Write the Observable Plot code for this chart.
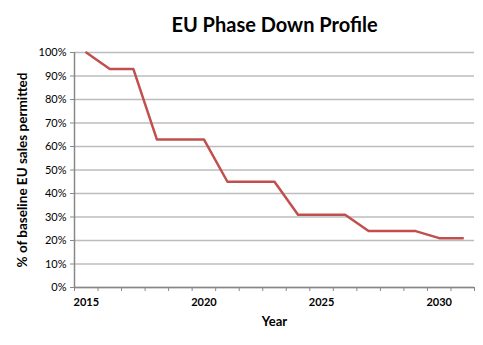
<!DOCTYPE html>
<html>
<head>
<meta charset="utf-8">
<script src="https://cdn.jsdelivr.net/npm/d3@7"></script>
<script src="https://cdn.jsdelivr.net/npm/@observablehq/plot@0.6"></script>
<style>
  body { margin: 0; background: #fff; font-family: Lato, "Open Sans", sans-serif; }
  #title { height: 45px; box-sizing: border-box; padding-top: 12px; padding-left: 66px; width: 483px; text-align: center; font-weight: bold; font-size: 20px; color: #000; line-height: 24px; }
  #chart svg { overflow: visible; }
</style>
</head>
<body>
<div id="title">EU Phase Down Profile</div>
<div id="chart"></div>
<script>
const years = [2015, 2016, 2017, 2018, 2019, 2020, 2021, 2022, 2023, 2024, 2025, 2026, 2027, 2028, 2029, 2030, 2031];
const permitted = [1.00, 0.93, 0.93, 0.63, 0.63, 0.63, 0.45, 0.45, 0.45, 0.31, 0.31, 0.31, 0.24, 0.24, 0.24, 0.21, 0.21];
const xTickLabels = [2015, 2020, 2025, 2030];
const yTicks = [0, 0.1, 0.2, 0.3, 0.4, 0.5, 0.6, 0.7, 0.8, 0.9, 1.0];

const data = years.map((year, i) => ({year, value: permitted[i]}));
const boundaries = years.map(y => y - 0.5).concat([years[years.length - 1] + 0.5]);

const chart = Plot.plot({
  width: 483,
  height: 300,
  marginTop: 7,
  marginBottom: 58,
  marginLeft: 74,
  marginRight: 9,
  style: {fontFamily: "Lato, 'Open Sans', sans-serif", fontSize: "11px", color: "#000", background: "#fff", overflow: "visible"},
  x: {domain: [boundaries[0], boundaries[boundaries.length - 1]]},
  y: {domain: [0, 1]},
  marks: [
    Plot.gridY(yTicks, {stroke: "#bcbcbc", strokeOpacity: 1, strokeWidth: 1.5}),
    Plot.axisY(yTicks, {tickFormat: d3.format(".0%"), tickSize: 4, tickPadding: 4, stroke: "#888", label: null, fontSize: 11}),
    Plot.ruleX([boundaries[0]], {stroke: "#888", strokeWidth: 1.5}),
    Plot.ruleY([0], {stroke: "#888", strokeWidth: 1.5}),
    Plot.axisX(boundaries, {tickSize: 4, tickFormat: () => "", stroke: "#888", label: null}),
    Plot.axisX(xTickLabels, {tickSize: 0, tickPadding: 11, tickFormat: d => String(d), label: null, fontWeight: "bold", fontSize: 11}),
    Plot.line(data, {x: "year", y: "value", stroke: "#c0504d", strokeWidth: 2.5}),
    Plot.text(["Year"], {frameAnchor: "bottom", dy: 38, fontWeight: "bold", fontSize: 13}),
    Plot.text(["% of baseline EU sales permitted"], {frameAnchor: "left", dx: -52, rotate: -90, textAnchor: "middle", fontWeight: "bold", fontSize: 13.5})
  ]
});
document.getElementById("chart").appendChild(chart);
</script>
</body>
</html>
